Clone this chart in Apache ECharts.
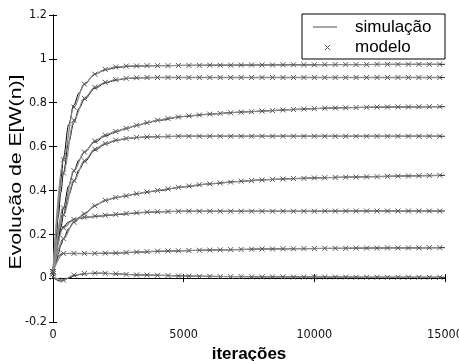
<!DOCTYPE html>
<html>
<head>
<meta charset="utf-8">
<script src="https://cdn.jsdelivr.net/npm/echarts@6/dist/echarts.min.js"></script>
<style>
  html, body { margin: 0; padding: 0; background: #fff; }
  #chart { width: 459px; height: 361px; }
</style>
</head>
<body>
<div id="chart"></div>
<script>
// Iteration grid of the simulated curves
const simX = [0, 100, 200, 300, 400, 600, 800, 1000, 1200, 1600, 2000, 2400, 2800, 3200, 3600, 4000,
  5000, 6000, 7000, 8000, 9000, 10000, 11000, 12000, 13000, 14000, 15000];

// Simulated E[W(n)], one array per coefficient (top to bottom)
const sim1 = [0.02, 0.16, 0.32, 0.45, 0.55, 0.70, 0.79, 0.845, 0.885, 0.93, 0.95, 0.96, 0.965, 0.967, 0.968, 0.969,
  0.970, 0.971, 0.971, 0.972, 0.973, 0.973, 0.974, 0.974, 0.975, 0.975, 0.975];
const sim2 = [0.02, 0.14, 0.28, 0.39, 0.48, 0.62, 0.71, 0.775, 0.815, 0.865, 0.89, 0.903, 0.91, 0.913, 0.914, 0.915,
  0.915, 0.915, 0.915, 0.915, 0.915, 0.915, 0.915, 0.915, 0.915, 0.915, 0.915];
const sim3 = [0.02, 0.10, 0.18, 0.26, 0.32, 0.42, 0.49, 0.54, 0.575, 0.62, 0.648, 0.667, 0.682, 0.696, 0.708, 0.719,
  0.737, 0.748, 0.756, 0.762, 0.768, 0.773, 0.777, 0.779, 0.780, 0.781, 0.782];
const sim4 = [0.02, 0.09, 0.16, 0.23, 0.29, 0.38, 0.44, 0.495, 0.53, 0.583, 0.611, 0.627, 0.636, 0.641, 0.644, 0.645,
  0.647, 0.647, 0.647, 0.647, 0.647, 0.647, 0.647, 0.647, 0.647, 0.647, 0.647];
const sim5 = [0.02, 0.07, 0.11, 0.15, 0.18, 0.225, 0.255, 0.277, 0.295, 0.33, 0.354, 0.367, 0.375, 0.384, 0.392, 0.399,
  0.416, 0.430, 0.440, 0.448, 0.453, 0.457, 0.460, 0.462, 0.465, 0.467, 0.469];
const sim6 = [0.02, 0.12, 0.18, 0.215, 0.235, 0.256, 0.267, 0.272, 0.276, 0.281, 0.285, 0.289, 0.293, 0.297, 0.300, 0.302,
  0.305, 0.305, 0.305, 0.305, 0.305, 0.305, 0.306, 0.306, 0.306, 0.306, 0.306];
const sim7 = [0.02, 0.07, 0.10, 0.11, 0.112, 0.112, 0.112, 0.112, 0.112, 0.112, 0.113, 0.114, 0.116, 0.118, 0.120, 0.122,
  0.125, 0.128, 0.130, 0.133, 0.134, 0.135, 0.136, 0.137, 0.138, 0.138, 0.139];
const sim8 = [0.01, -0.005, -0.012, -0.013, -0.01, 0.0, 0.01, 0.016, 0.02, 0.022, 0.022, 0.02, 0.017, 0.015, 0.014, 0.013,
  0.010, 0.008, 0.007, 0.006, 0.006, 0.005, 0.005, 0.004, 0.004, 0.004, 0.004];

// Iterations at which the model is evaluated
const modX = [0, 400, 800, 1200, 1600, 2000, 2400, 2800, 3200, 3600, 4000, 4400, 4800, 5200, 5600, 6000,
  6400, 6800, 7200, 7600, 8000, 8400, 8800, 9200, 9600, 10000, 10400, 10800, 11200, 11600, 12000,
  12400, 12800, 13200, 13600, 14000, 14400, 14800];

// Model prediction of E[W(n)]
const mod1 = [0.03, 0.54, 0.78, 0.885, 0.93, 0.952, 0.963, 0.967, 0.968, 0.969, 0.969, 0.969, 0.970, 0.970, 0.970, 0.971,
  0.971, 0.971, 0.972, 0.972, 0.972, 0.972, 0.973, 0.973, 0.973, 0.973, 0.974, 0.974, 0.974, 0.974, 0.974,
  0.975, 0.975, 0.975, 0.975, 0.975, 0.975, 0.975];
const mod2 = [0.03, 0.48, 0.72, 0.82, 0.87, 0.893, 0.905, 0.911, 0.914, 0.915, 0.915, 0.915, 0.915, 0.915, 0.915, 0.915,
  0.915, 0.915, 0.915, 0.915, 0.915, 0.915, 0.915, 0.915, 0.915, 0.915, 0.915, 0.915, 0.915, 0.915, 0.915,
  0.915, 0.915, 0.915, 0.915, 0.915, 0.915, 0.915];
const mod3 = [0.03, 0.32, 0.49, 0.575, 0.625, 0.652, 0.669, 0.683, 0.697, 0.709, 0.720, 0.728, 0.735, 0.740, 0.744, 0.748,
  0.751, 0.754, 0.757, 0.759, 0.762, 0.764, 0.767, 0.769, 0.771, 0.773, 0.775, 0.776, 0.777, 0.778, 0.779,
  0.780, 0.780, 0.781, 0.781, 0.782, 0.782, 0.782];
const mod4 = [0.03, 0.29, 0.445, 0.535, 0.588, 0.614, 0.629, 0.637, 0.642, 0.644, 0.645, 0.646, 0.647, 0.647, 0.647, 0.647,
  0.647, 0.647, 0.647, 0.647, 0.647, 0.647, 0.647, 0.647, 0.647, 0.647, 0.647, 0.647, 0.647, 0.647, 0.647,
  0.647, 0.647, 0.647, 0.647, 0.647, 0.647, 0.647];
const mod5 = [0.02, 0.18, 0.255, 0.293, 0.33, 0.355, 0.368, 0.376, 0.385, 0.393, 0.400, 0.407, 0.414, 0.420, 0.426, 0.430,
  0.434, 0.438, 0.442, 0.445, 0.448, 0.450, 0.452, 0.454, 0.455, 0.457, 0.458, 0.459, 0.460, 0.461, 0.462,
  0.463, 0.464, 0.465, 0.466, 0.467, 0.468, 0.469];
const mod6 = [0.02, 0.23, 0.268, 0.278, 0.283, 0.287, 0.291, 0.295, 0.298, 0.301, 0.303, 0.304, 0.305, 0.305, 0.305, 0.305,
  0.305, 0.305, 0.305, 0.305, 0.305, 0.305, 0.305, 0.305, 0.305, 0.305, 0.306, 0.306, 0.306, 0.306, 0.306,
  0.306, 0.306, 0.306, 0.306, 0.306, 0.306, 0.306];
const mod7 = [0.03, 0.113, 0.113, 0.113, 0.113, 0.114, 0.115, 0.117, 0.119, 0.121, 0.123, 0.124, 0.125, 0.126, 0.127, 0.128,
  0.129, 0.130, 0.131, 0.132, 0.133, 0.133, 0.134, 0.134, 0.135, 0.135, 0.136, 0.136, 0.136, 0.137, 0.137,
  0.137, 0.138, 0.138, 0.138, 0.138, 0.139, 0.139];
const mod8 = [0.005, -0.009, 0.014, 0.021, 0.023, 0.022, 0.020, 0.017, 0.015, 0.014, 0.013, 0.012, 0.010, 0.009, 0.008, 0.008,
  0.007, 0.007, 0.007, 0.006, 0.006, 0.006, 0.006, 0.005, 0.005, 0.005, 0.005, 0.005, 0.005, 0.004, 0.004,
  0.004, 0.004, 0.004, 0.004, 0.004, 0.004, 0.004];

// Axis ticks
const xTicks = [0, 5000, 10000, 15000];
const yTicks = [-0.2, 0, 0.2, 0.4, 0.6, 0.8, 1, 1.2];

const simCurves = [sim1, sim2, sim3, sim4, sim5, sim6, sim7, sim8];
const modCurves = [mod1, mod2, mod3, mod4, mod5, mod6, mod7, mod8];

const tickFont = '"Liberation Sans Narrow", "DejaVu Sans Condensed", "Liberation Sans", Arial, sans-serif';
const mainFont = '"Liberation Sans", Arial, Helvetica, sans-serif';

const crossSymbol = 'path://M0,0L10,10M10,0L0,10';

const series = [];
simCurves.forEach(function (vals) {
  series.push({
    type: 'line',
    name: 'simulação',
    data: simX.map(function (x, j) { return [x, vals[j]]; }),
    symbol: 'none',
    smooth: 0.35,
    smoothMonotone: 'x',
    lineStyle: { color: '#000', width: 1 },
    z: 2
  });
});
modCurves.forEach(function (vals) {
  series.push({
    type: 'line',
    name: 'modelo',
    data: modX.map(function (x, j) { return [x, vals[j]]; }),
    symbol: crossSymbol,
    symbolSize: 5,
    showAllSymbol: true,
    smooth: 0.35,
    smoothMonotone: 'x',
    lineStyle: { color: '#8a8a8a', width: 1.3 },
    itemStyle: { color: '#555', borderColor: '#555', borderWidth: 1 },
    z: 3
  });
});

const chart = echarts.init(document.getElementById('chart'), null, { renderer: 'canvas' });
chart.setOption({
  animation: false,
  backgroundColor: '#fff',
  grid: { left: 53, right: 14, top: 15, bottom: 39, containLabel: false, outerBoundsMode: 'none' },
  xAxis: [{
    type: 'value',
    min: xTicks[0], max: xTicks[xTicks.length - 1], interval: 5000,
    name: 'iterações',
    nameLocation: 'middle',
    nameGap: 19,
    nameTextStyle: { fontFamily: mainFont, fontSize: 17, fontWeight: 'bold', color: '#000' },
    axisLine: { show: true, lineStyle: { color: '#000', width: 1 } },
    axisTick: { show: true, inside: true, length: 4, lineStyle: { color: '#000' } },
    axisLabel: { fontFamily: tickFont, fontSize: 12.5, color: '#111', margin: 6,
      formatter: function (v) { return String(v); } },
    splitLine: { show: false }
  }, {
    type: 'value', position: 'top',
    min: xTicks[0], max: xTicks[xTicks.length - 1], interval: 5000,
    axisLine: { show: true, lineStyle: { color: '#000', width: 1 } },
    axisTick: { show: true, inside: true, length: 4, lineStyle: { color: '#000' } },
    axisLabel: { show: false },
    splitLine: { show: false }
  }],
  yAxis: [{
    type: 'value',
    min: yTicks[0], max: yTicks[yTicks.length - 1], interval: 0.2,
    axisLine: { show: true, lineStyle: { color: '#000', width: 1 } },
    axisTick: { show: true, inside: true, length: 4, lineStyle: { color: '#000' } },
    axisLabel: { fontFamily: tickFont, fontSize: 12.5, color: '#111', margin: 6,
      formatter: function (v) { return String(Math.round(v * 10) / 10); } },
    splitLine: { show: false }
  }, {
    type: 'value', position: 'right',
    min: yTicks[0], max: yTicks[yTicks.length - 1], interval: 0.2,
    axisLine: { show: true, lineStyle: { color: '#000', width: 1 } },
    axisTick: { show: true, inside: true, length: 4, lineStyle: { color: '#000' } },
    axisLabel: { show: false },
    splitLine: { show: false }
  }],
  series: series,
  graphic: [{
    // y-axis title, stretched along its baseline
    type: 'text',
    x: 16, y: 172,
    rotation: Math.PI / 2,
    scaleX: 1.25,
    z: 50,
    style: { text: 'Evolução de E[W(n)]', font: '17px ' + mainFont, fill: '#000',
      align: 'center', verticalAlign: 'middle' }
  }, {
    type: 'group',
    x: 302, y: 14,
    z: 100,
    children: [
      { type: 'rect', shape: { x: 0, y: 0, width: 143, height: 45 },
        style: { fill: '#fff', stroke: '#000', lineWidth: 1 } },
      { type: 'line', shape: { x1: 11, y1: 13, x2: 35, y2: 13 },
        style: { stroke: '#777', lineWidth: 1.3 } },
      { type: 'text', x: 53, y: 13,
        style: { text: 'simulação', font: '17px ' + mainFont, fill: '#000', verticalAlign: 'middle' } },
      { type: 'line', shape: { x1: 23, y1: 31, x2: 28, y2: 36 },
        style: { stroke: '#555', lineWidth: 1 } },
      { type: 'line', shape: { x1: 28, y1: 31, x2: 23, y2: 36 },
        style: { stroke: '#555', lineWidth: 1 } },
      { type: 'text', x: 53, y: 33,
        style: { text: 'modelo', font: '17px ' + mainFont, fill: '#000', verticalAlign: 'middle' } }
    ]
  }]
});
</script>
</body>
</html>
